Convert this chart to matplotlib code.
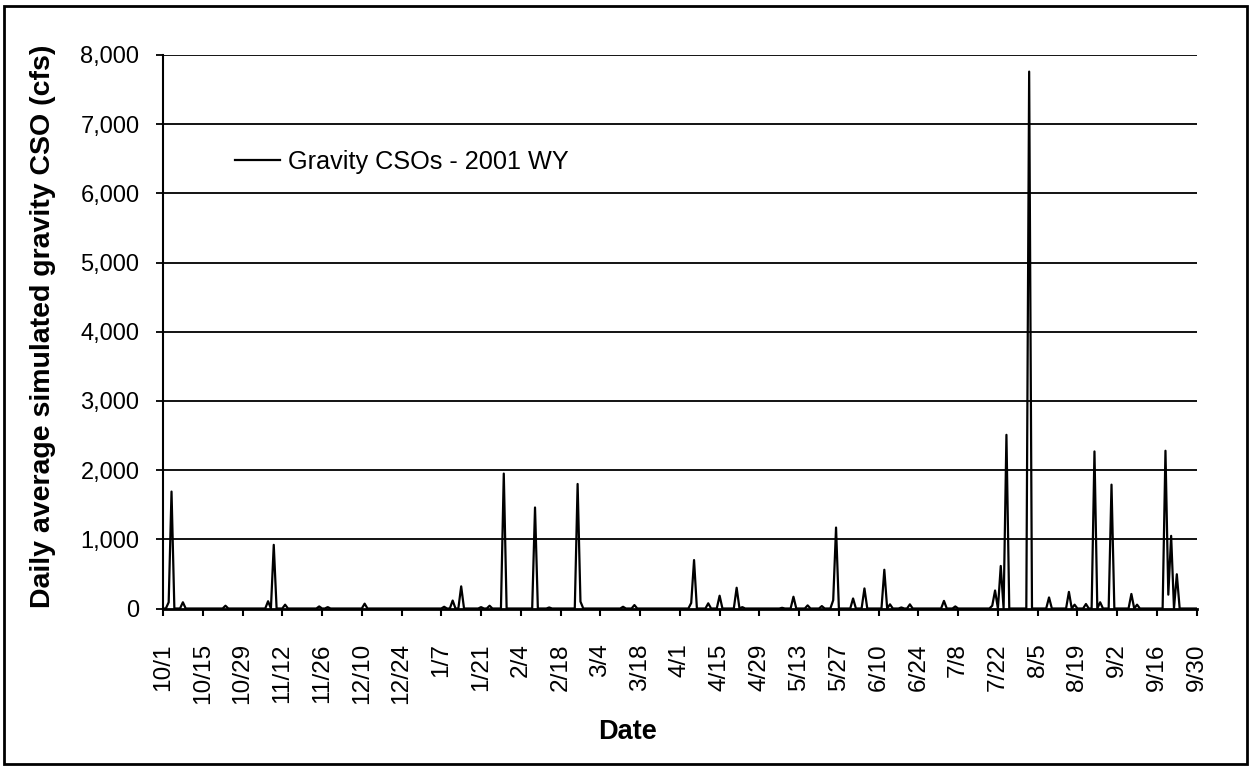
import numpy as np
import pandas as pd
import matplotlib
matplotlib.use("Agg")
import matplotlib.pyplot as plt
from matplotlib.patches import Rectangle
from matplotlib.ticker import FuncFormatter

plt.rcParams['font.family'] = ['Liberation Sans', 'DejaVu Sans']

# water year 2001, daily values (days not listed are 0 cfs)
start_date = "2000-10-01"
end_date = "2001-09-30"
event_dates = [
    "2000-10-03", "2000-10-04", "2000-10-08", "2000-10-23", "2000-11-07",
    "2000-11-09", "2000-11-13", "2000-11-25", "2000-11-28", "2000-12-11",
    "2001-01-08", "2001-01-11", "2001-01-14", "2001-01-21", "2001-01-24",
    "2001-01-29", "2001-02-09", "2001-02-14", "2001-02-24", "2001-02-25",
    "2001-03-12", "2001-03-16", "2001-04-05", "2001-04-06", "2001-04-11",
    "2001-04-15", "2001-04-21", "2001-04-23", "2001-05-07", "2001-05-11",
    "2001-05-16", "2001-05-21", "2001-05-25", "2001-05-26", "2001-06-01",
    "2001-06-05", "2001-06-12", "2001-06-14", "2001-06-18", "2001-06-21",
    "2001-07-03", "2001-07-07", "2001-07-20", "2001-07-21", "2001-07-23",
    "2001-07-25", "2001-08-02", "2001-08-09", "2001-08-16", "2001-08-18",
    "2001-08-22", "2001-08-25", "2001-08-27", "2001-08-31", "2001-09-07",
    "2001-09-09", "2001-09-19", "2001-09-20", "2001-09-21", "2001-09-23",
]
event_cfs = [
    90, 1690, 90, 40, 105,
    920, 55, 30, 20, 70,
    25, 115, 320, 20, 40,
    1950, 1460, 15, 1800, 100,
    25, 50, 80, 700, 75,
    185, 300, 20, 10, 170,
    45, 35, 120, 1170, 145,
    290, 560, 60, 15, 60,
    110, 30, 40, 260, 615,
    2510, 7760, 160, 240, 55,
    65, 2270, 90, 1790, 210,
    55, 2280, 200, 1050, 495,
]
tick_labels = [
    "10/1", "10/15", "10/29", "11/12", "11/26", "12/10", "12/24", "1/7",
    "1/21", "2/4", "2/18", "3/4", "3/18", "4/1", "4/15", "4/29", "5/13",
    "5/27", "6/10", "6/24", "7/8", "7/22", "8/5", "8/19", "9/2", "9/16", "9/30",
]
y_ticks = [0, 1000, 2000, 3000, 4000, 5000, 6000, 7000, 8000]

days = pd.date_range(start_date, end_date, freq="D")
flow = pd.Series(event_cfs, index=pd.to_datetime(event_dates)).reindex(days, fill_value=0)
x = np.arange(len(days))

fig = plt.figure(figsize=(12.51, 7.70), dpi=100)
ax = fig.add_axes([163 / 1251, 1 - 608.5 / 770, (1196.7 - 163) / 1251, (608.5 - 55) / 770])

for yv in y_ticks[1:]:
    ax.axhline(yv, color="black", lw=1.3, zorder=1)

ax.plot(x, flow.values, color="black", lw=1.6, zorder=3, label="Gravity CSOs - 2001 WY")

ax.set_xlim(0, len(days) - 1)
ax.set_ylim(0, 8000)
ax.set_yticks(y_ticks)
ax.yaxis.set_major_formatter(FuncFormatter(lambda v, p: f"{int(v):,}"))
ax.set_xticks(np.arange(0, len(days), 14))
ax.set_xticklabels(tick_labels, rotation=90, va="top", ha="center")

ax.spines["top"].set_visible(False)
ax.spines["right"].set_visible(False)
ax.spines["left"].set_linewidth(1.5)
ax.spines["bottom"].set_linewidth(2)
ax.spines["bottom"].set_zorder(4)
ax.tick_params(axis="y", direction="out", length=5, width=1.3, pad=12, labelsize=17)
ax.tick_params(axis="x", direction="out", length=5, width=1.5, pad=20, labelsize=17.6)

fig.text(43 / 1251, 1 - 326 / 770, "Daily average simulated gravity CSO (cfs)",
         rotation=90, ha="center", va="center", fontsize=20.5, fontweight="bold")
fig.text(627 / 1251, 1 - 732 / 770, "Date", ha="center", va="center",
         fontsize=19.5, fontweight="bold")

ax.legend(loc="center left", bbox_to_anchor=(235 / 1251, 1 - 162 / 770),
          bbox_transform=fig.transFigure, frameon=False, fontsize=18.2,
          handlelength=1.8, handletextpad=0.3, borderpad=0, borderaxespad=0)

fig.patches.append(Rectangle((4 / 1251, 6 / 770), 1243 / 1251, 758 / 770,
                             transform=fig.transFigure, fill=False,
                             edgecolor="black", lw=2))

fig.savefig("out.png", dpi=100)
